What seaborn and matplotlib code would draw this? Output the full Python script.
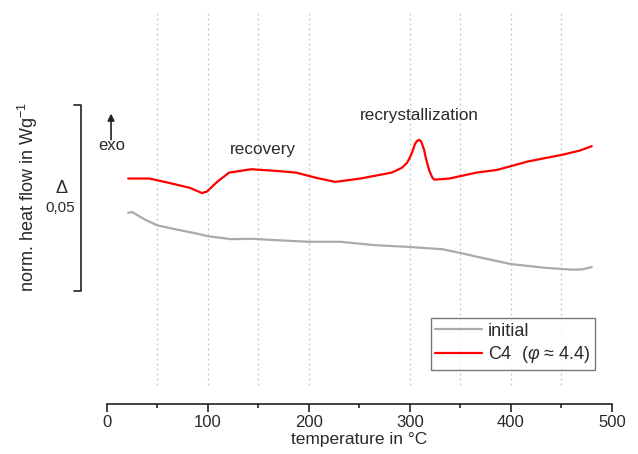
# -*- coding: utf-8 -*-

import pandas as pd
import seaborn as sns
import matplotlib.pyplot as plt
from matplotlib import rcParams

# DSC curves (heat flow in W/g, arbitrary offset)
temp_initial = [21, 25, 38, 50, 69, 89, 100, 123, 143, 170, 200, 231, 265, 300,
                332, 350, 366, 400, 434, 461, 471, 480]
flow_initial = [0.0511, 0.0513, 0.0492, 0.0477, 0.0466, 0.0455, 0.0448, 0.0440,
                0.0441, 0.0437, 0.0433, 0.0433, 0.0424, 0.0419, 0.0413, 0.0403,
                0.0393, 0.0373, 0.0363, 0.0358, 0.0359, 0.0365]

temp_c4 = [21, 42, 62, 82, 94, 99, 109, 121, 143, 170, 187, 207, 226, 251, 282,
           292, 297, 300, 303, 305, 307, 309, 311, 314, 316, 319, 322, 324, 339,
           366, 386, 417, 451, 468, 480]
flow_c4 = [0.0603, 0.0603, 0.0591, 0.0578, 0.0564, 0.0568, 0.0594, 0.0619,
           0.0628, 0.0623, 0.0619, 0.0605, 0.0594, 0.0603, 0.0619, 0.0632,
           0.0645, 0.0660, 0.0680, 0.0696, 0.0704, 0.0707, 0.0703, 0.0680,
           0.0655, 0.0625, 0.0606, 0.0600, 0.0603, 0.0619, 0.0626, 0.0649,
           0.0667, 0.0678, 0.0690]

series_labels = ['initial', 'C4  ($\\varphi$ ≈ 4.4)']
series_colors = ['#aaaaaa', '#ff0000']

df = pd.concat([
    pd.DataFrame({'temperature': temp_initial, 'flow': flow_initial, 'sample': series_labels[0]}),
    pd.DataFrame({'temperature': temp_c4, 'flow': flow_c4, 'sample': series_labels[1]}),
])

# general plot settings
sns.set_style('white')
rcParams['font.family'] = ['Liberation Sans', 'DejaVu Sans']
rcParams['mathtext.fontset'] = 'custom'
rcParams['mathtext.rm'] = 'Liberation Sans'
rcParams['mathtext.it'] = 'Liberation Sans:italic'
txt_clr = '#2a2a2a'

fig = plt.figure(figsize=(6.38, 4.54), dpi=100)
ax = fig.add_axes([0.1677, 0.1093, 0.7915, 0.8687])

# dotted grid (no line at 250 in the original)
grid_x = [50, 100, 150, 200, 300, 350, 400, 450]
ax.vlines(grid_x, 0.0048, 0.1051, colors='#c4c4c4', linestyles=(0, (1.5, 2.5)), lw=0.9, zorder=0)

sns.lineplot(data=df, x='temperature', y='flow', hue='sample', palette=series_colors,
             sort=False, lw=1.6, ax=ax)

ax.set_xlim(0, 500)
ax.set_ylim(-0.0004, 0.1056)
ax.set_xticks([0, 100, 200, 300, 400, 500])
ax.set_xticks(grid_x + [250], minor=True)
ax.set_yticks([])
ax.tick_params(axis='x', which='major', bottom=True, direction='out', length=6, width=1.2,
               labelsize=12, labelcolor=txt_clr, colors='#222222', pad=2)
ax.tick_params(axis='x', which='minor', bottom=True, direction='out', length=3, width=1.2,
               colors='#222222')
for s in ['left', 'top', 'right']:
    ax.spines[s].set_visible(False)
ax.spines['bottom'].set_linewidth(1.2)
ax.spines['bottom'].set_color('#222222')
ax.set_xlabel('temperature in °C', fontsize=12.5, color=txt_clr, labelpad=1)
ax.set_ylabel('')

# scale bar for the heat flow
ax.plot([-32.7, -25.7, -25.7, -32.7], [0.0801, 0.0801, 0.0302, 0.0302],
        color='#222222', lw=1.2, clip_on=False)
ax.text(-44.6, 0.0577, 'Δ', fontsize=13, color=txt_clr, ha='center', va='center')
ax.text(-46.5, 0.0523, '0,05', fontsize=11, color=txt_clr, ha='center', va='center')
fig.text(0.044, 0.565, 'norm. heat flow in Wg$^{-1}$', rotation=90, fontsize=13,
         color=txt_clr, ha='center', va='center')

# exo arrow and labels
ax.annotate('', xy=(4, 0.0785), xytext=(4, 0.0700),
            arrowprops=dict(arrowstyle='-|>', color='#222222', lw=1.2, mutation_scale=10))
ax.text(5, 0.0692, 'exo', fontsize=12, color=txt_clr, ha='center', va='center')
ax.text(154.5, 0.0680, 'recovery', fontsize=12.3, color=txt_clr, ha='center', va='center')
ax.text(309, 0.0772, 'recrystallization', fontsize=12.3, color=txt_clr, ha='center', va='center')

leg = ax.legend(loc='lower right', bbox_to_anchor=(0.966, 0.088), fontsize=13, frameon=True,
                fancybox=False, edgecolor='#555555', handlelength=2.6, handletextpad=0.3,
                borderpad=0.25, labelspacing=0.25, borderaxespad=0)
leg.get_frame().set_linewidth(1.0)
for t in leg.get_texts():
    t.set_color(txt_clr)
for l in leg.get_lines():
    l.set_linewidth(1.6)

plt.savefig('out.png', format='png', dpi=100)
